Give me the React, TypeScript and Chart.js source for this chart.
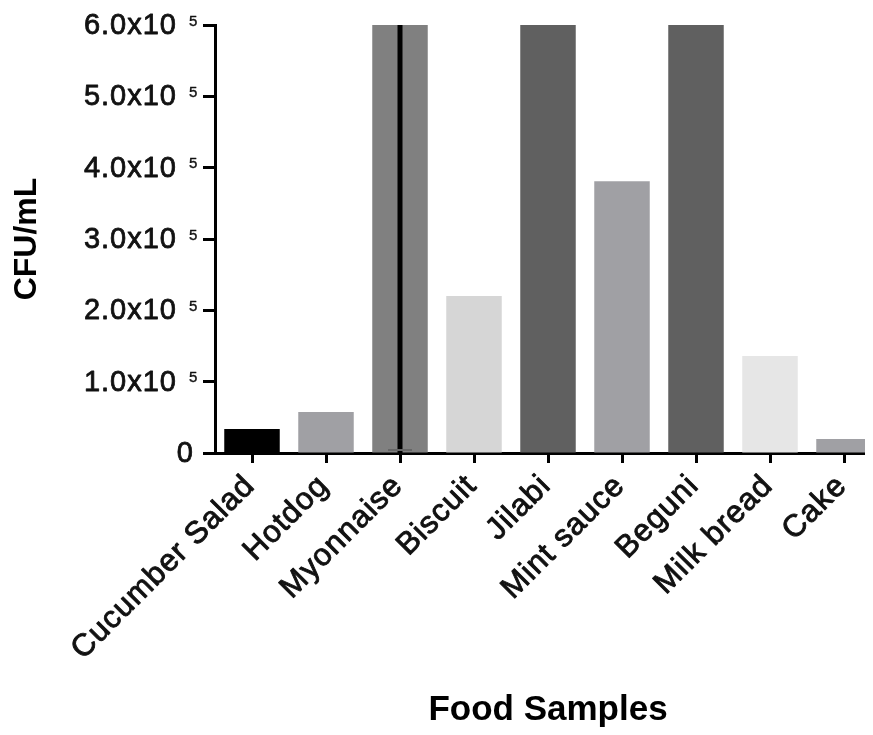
import React, { useEffect, useRef } from "react";
import { Chart, registerables } from "chart.js";

Chart.register(...registerables);

const categories = [
  "Cucumber Salad",
  "Hotdog",
  "Myonnaise",
  "Biscuit",
  "Jilabi",
  "Mint sauce",
  "Beguni",
  "Milk bread",
  "Cake",
];
const cfuValues = [33500, 57500, 600000, 220000, 600000, 381000, 600000, 136000, 19500];
const errorLow: (number | null)[] = [null, null, 0, null, null, null, null, null, null];
const barColors = [
  "#000000",
  "#a0a0a4",
  "#808080",
  "#d6d6d6",
  "#606060",
  "#a0a0a4",
  "#606060",
  "#e6e6e6",
  "#a0a0a4",
];
const yTickValues = [0, 100000, 200000, 300000, 400000, 500000, 600000];
const yTickMantissa = ["0", "1.0x10", "2.0x10", "3.0x10", "4.0x10", "5.0x10", "6.0x10"];
const yTickExponent = ["", "5", "5", "5", "5", "5", "5"];

const FONT = '"Liberation Sans", Arial, sans-serif';

function heavyText(ctx: any, text: string, x: number, y: number, w: number) {
  ctx.fillText(text, x, y);
  ctx.lineWidth = w;
  ctx.strokeText(text, x, y);
}

const customDraw = {
  id: "customDraw",
  afterDatasetsDraw(chart: any) {
    const ctx = chart.ctx;
    const xs = chart.scales.x;
    const ys = chart.scales.y;
    ctx.save();
    errorLow.forEach((low, i) => {
      if (low === null) return;
      const x = xs.getPixelForValue(i);
      const yTop = ys.getPixelForValue(cfuValues[i]);
      const yBot = ys.getPixelForValue(low);
      ctx.strokeStyle = "#000";
      ctx.lineWidth = 5;
      ctx.beginPath();
      ctx.moveTo(x, yTop);
      ctx.lineTo(x, yBot);
      ctx.stroke();
      ctx.strokeStyle = "#666";
      ctx.lineWidth = 2;
      ctx.beginPath();
      ctx.moveTo(x - 12, yBot - 3);
      ctx.lineTo(x + 12, yBot - 3);
      ctx.stroke();
    });
    ctx.restore();
  },
  afterDraw(chart: any) {
    const ctx = chart.ctx;
    const xs = chart.scales.x;
    const ys = chart.scales.y;
    ctx.save();
    ctx.fillStyle = "#111";
    ctx.strokeStyle = "#111";
    ctx.lineJoin = "round";
    // y tick labels with superscript exponent
    yTickValues.forEach((v, i) => {
      const y = ys.getPixelForValue(v);
      if (yTickExponent[i]) {
        ctx.font = `29px ${FONT}`;
        (ctx as any).letterSpacing = "1px";
        ctx.textAlign = "right";
        ctx.textBaseline = "middle";
        heavyText(ctx, yTickMantissa[i], 177, y + 1, 0.8);
        (ctx as any).letterSpacing = "0px";
        ctx.font = `15px ${FONT}`;
        ctx.textAlign = "left";
        ctx.textBaseline = "top";
        heavyText(ctx, yTickExponent[i], 189, y - 11, 0.4);
      } else {
        ctx.font = `29px ${FONT}`;
        (ctx as any).letterSpacing = "0px";
        ctx.textAlign = "right";
        ctx.textBaseline = "middle";
        heavyText(ctx, yTickMantissa[i], 193, y + 1, 0.8);
      }
    });
    // rotated x labels
    const baseY = xs.top;
    categories.forEach((label, i) => {
      const x = xs.getPixelForValue(i);
      ctx.save();
      ctx.translate(x - 2, baseY + 28);
      ctx.rotate(-Math.PI / 4);
      ctx.font = `31px ${FONT}`;
      (ctx as any).letterSpacing = "1px";
      ctx.textAlign = "right";
      ctx.textBaseline = "middle";
      heavyText(ctx, label, 0, 0, 0.9);
      ctx.restore();
    });
    ctx.restore();
  },
};

export default function App() {
  const canvasRef = useRef<HTMLCanvasElement>(null);

  useEffect(() => {
    document.body.style.overflow = "hidden";
    const canvas = canvasRef.current;
    if (!canvas) return;
    const chart = new Chart(canvas, {
      type: "bar",
      data: {
        labels: categories,
        datasets: [
          {
            data: cfuValues,
            backgroundColor: barColors,
            borderWidth: 0,
            barPercentage: 0.75,
            categoryPercentage: 1,
          },
        ],
      },
      options: {
        responsive: false,
        animation: false,
        devicePixelRatio: 1,
        layout: { padding: { top: 25, right: 19, bottom: 0, left: 0 } },
        plugins: {
          legend: { display: false },
          tooltip: { enabled: false },
        },
        scales: {
          x: {
            type: "category",
            offset: true,
            grid: {
              display: true,
              drawOnChartArea: false,
              drawTicks: true,
              tickLength: 10,
              tickWidth: 3,
              color: "#000",
              offset: false,
            },
            border: { display: true, color: "#000", width: 3 },
            ticks: { display: false },
            title: {
              display: true,
              text: "Food Samples",
              color: "#000",
              font: { family: FONT, size: 35, weight: "bold" },
              padding: { top: 0, bottom: 4 },
            },
            afterFit: (s: any) => {
              s.height = 282;
              s.paddingLeft = 0;
              s.paddingRight = 0;
            },
          },
          y: {
            min: 0,
            max: 600000,
            grid: {
              display: true,
              drawOnChartArea: false,
              drawTicks: true,
              tickLength: 12,
              tickWidth: 3,
              color: "#000",
            },
            border: { display: true, color: "#000", width: 3 },
            ticks: { display: false, stepSize: 100000 },
            title: {
              display: true,
              text: "CFU/mL",
              color: "#000",
              font: { family: FONT, size: 32, weight: "bold" },
              padding: { top: 8, bottom: 0 },
            },
            afterFit: (s: any) => {
              s.width = 215;
            },
          },
        },
      },
      plugins: [customDraw],
    });
    return () => chart.destroy();
  }, []);

  return (
    <div
      style={{
        position: "relative",
        width: 873,
        height: 735,
        overflow: "hidden",
        margin: -8,
        background: "#fff",
      }}
    >
      <canvas ref={canvasRef} width={900} height={735} style={{ display: "block" }} />
    </div>
  );
}
